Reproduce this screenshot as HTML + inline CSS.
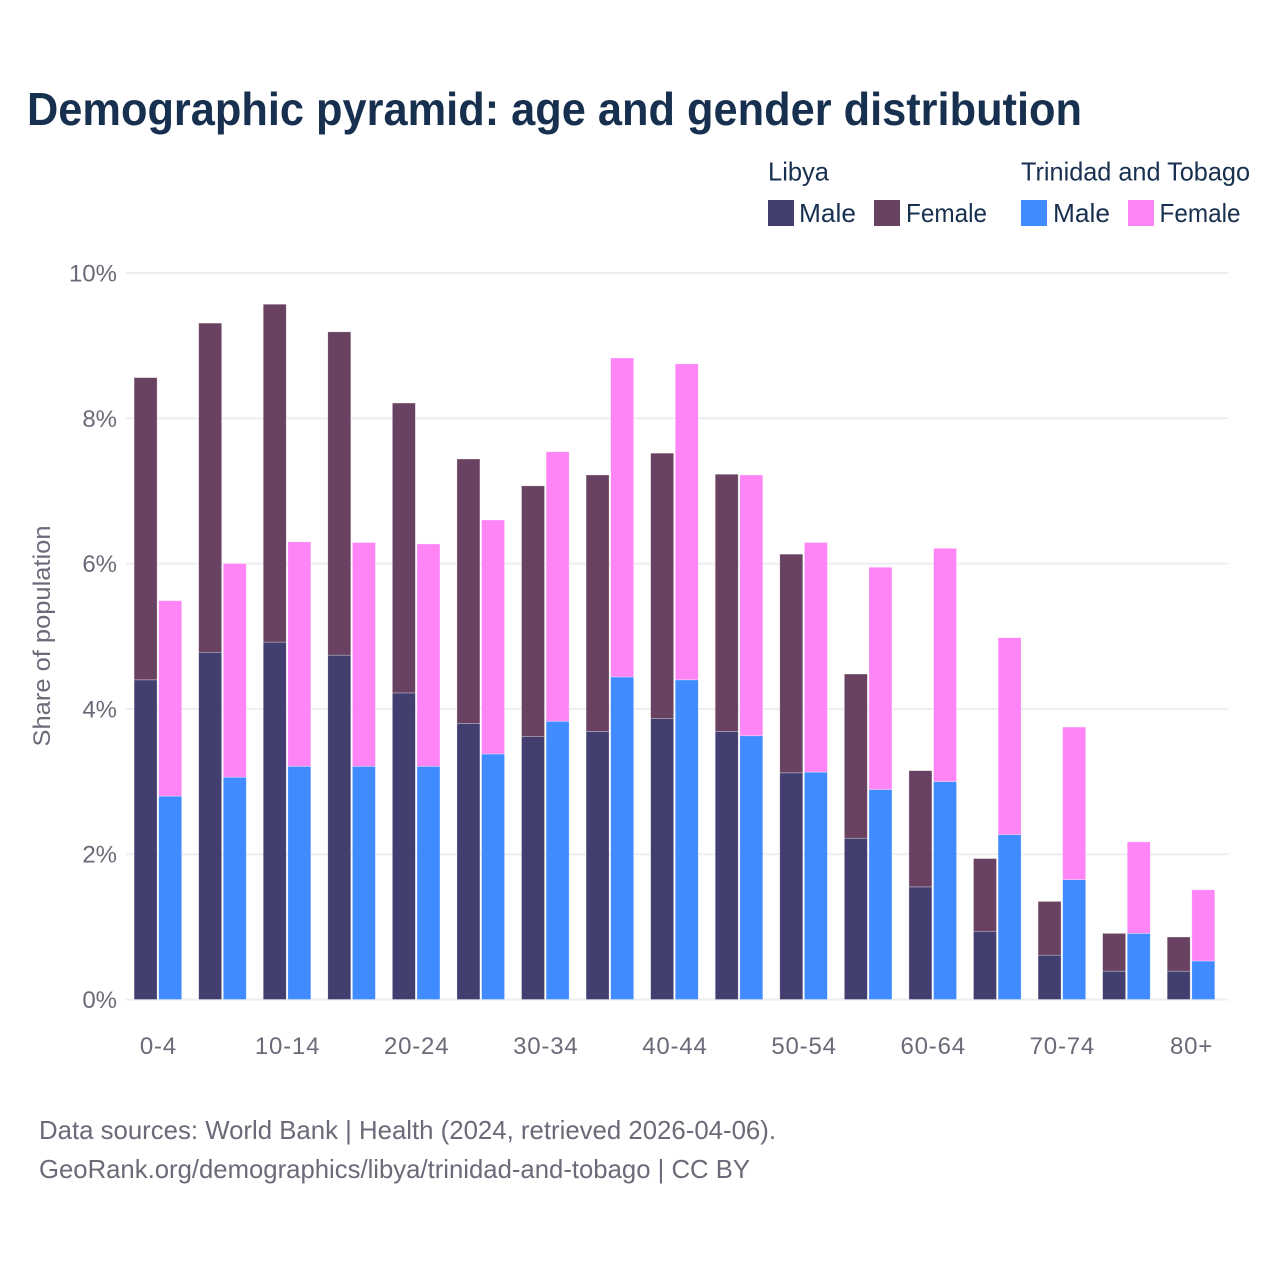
<!DOCTYPE html>
<html lang="en">
<head>
<meta charset="utf-8">
<title>Demographic pyramid: age and gender distribution</title>
<style>
html,body{margin:0;padding:0;background:#fff;}
svg{display:block;font-family:"Liberation Sans",sans-serif;}
.tick{font-size:24px;fill:#6a6a78;}
.leg{font-size:26px;fill:#18304f;}
.foot{font-size:26px;fill:#6a6a78;}
</style>
</head>
<body>
<svg id="chart" xmlns="http://www.w3.org/2000/svg" width="1280" height="1280" viewBox="0 0 1280 1280">
  <rect x="0" y="0" width="1280" height="1280" fill="#ffffff"/>
  <text x="27" y="125" font-size="46" font-weight="700" fill="#18304f" textLength="1055" lengthAdjust="spacingAndGlyphs">Demographic pyramid: age and gender distribution</text>

  <g>
    <text class="leg" x="768" y="180.5" textLength="61" lengthAdjust="spacingAndGlyphs">Libya</text>
    <text class="leg" x="1021" y="180.5" textLength="229" lengthAdjust="spacingAndGlyphs">Trinidad and Tobago</text>
    <g>
      <rect x="768" y="200" width="26" height="26" fill="#423f70"/>
      <text class="leg" x="799" y="222" textLength="57" lengthAdjust="spacingAndGlyphs">Male</text>
    </g>
    <g>
      <rect x="874" y="200" width="26" height="26" fill="#684260"/>
      <text class="leg" x="906" y="222" textLength="81" lengthAdjust="spacingAndGlyphs">Female</text>
    </g>
    <g>
      <rect x="1021" y="200" width="26" height="26" fill="#3f8bff"/>
      <text class="leg" x="1053" y="222" textLength="57" lengthAdjust="spacingAndGlyphs">Male</text>
    </g>
    <g>
      <rect x="1128" y="200" width="26" height="26" fill="#ff85f6"/>
      <text class="leg" x="1159.5" y="222" textLength="81" lengthAdjust="spacingAndGlyphs">Female</text>
    </g>
  </g>

  <g id="grid"></g>
  <g id="yticks"></g>
  <g id="bars"></g>
  <g id="xticks"></g>

  <text x="0" y="0" transform="translate(50,636) rotate(-90)" text-anchor="middle" font-size="24" fill="#6a6a78" textLength="221" lengthAdjust="spacingAndGlyphs">Share of population</text>

  <text class="foot" x="39" y="1139" textLength="737" lengthAdjust="spacingAndGlyphs">Data sources: World Bank | Health (2024, retrieved 2026-04-06).</text>
  <text class="foot" x="39" y="1178" textLength="711" lengthAdjust="spacingAndGlyphs">GeoRank.org/demographics/libya/trinidad-and-tobago | CC BY</text>
</svg>
<script>
const categories = ['0-4','5-9','10-14','15-19','20-24','25-29','30-34','35-39','40-44','45-49','50-54','55-59','60-64','65-69','70-74','75-79','80+'];
const libyaMale = [4.40,4.78,4.92,4.74,4.22,3.80,3.62,3.69,3.87,3.69,3.12,2.22,1.55,0.94,0.61,0.39,0.39];
const libyaFemale = [4.16,4.53,4.65,4.45,3.99,3.64,3.45,3.53,3.65,3.54,3.01,2.26,1.60,1.00,0.74,0.52,0.47];
const ttMale = [2.80,3.06,3.21,3.21,3.21,3.38,3.83,4.44,4.40,3.63,3.13,2.89,3.00,2.27,1.65,0.91,0.53];
const ttFemale = [2.69,2.94,3.09,3.08,3.06,3.22,3.71,4.39,4.35,3.59,3.16,3.06,3.21,2.71,2.10,1.26,0.98];
const yTicks = [0,2,4,6,8,10];

const NS = 'http://www.w3.org/2000/svg';
const plotLeft = 125.5, plotRight = 1228, yBase = 999.5, yTop = 273;
function yScale(v){ return yBase - (v / 10) * (yBase - yTop); }
function xCenter(i){ return 157.9 + i * (1191 - 157.9) / (categories.length - 1); }

const grid = document.getElementById('grid');
const yt = document.getElementById('yticks');
yTicks.forEach(function(t){
  const l = document.createElementNS(NS,'line');
  
  
  l.setAttribute('x1', plotLeft);
  l.setAttribute('x2', plotRight);
  l.setAttribute('y1', yScale(t));
  l.setAttribute('y2', yScale(t));
  l.setAttribute('stroke', '#eeeef1');
  l.setAttribute('stroke-width', '2');
  grid.appendChild(l);
  const s = document.createElementNS(NS,'text');
  
  
  s.setAttribute('class', 'tick');
  s.setAttribute('x', 117);
  s.setAttribute('y', yScale(t) + 8.5);
  s.setAttribute('text-anchor', 'end');
  s.textContent = t + '%';
  yt.appendChild(s);
});

const bars = document.getElementById('bars');
function addBar(x, v0, v1, fill){
  const r = document.createElementNS(NS,'rect');
  
  
  r.setAttribute('x', x);
  r.setAttribute('y', yScale(v1));
  r.setAttribute('width', 23);
  r.setAttribute('height', yScale(v0) - yScale(v1));
  r.setAttribute('fill', fill);
  r.setAttribute('stroke', '#ffffff');
  r.setAttribute('stroke-opacity', '0.5');
  r.setAttribute('stroke-width', '0.6');
  bars.appendChild(r);
}
categories.forEach(function(c, i){
  const cx = xCenter(i);
  addBar(cx - 23.8, 0, libyaMale[i], '#423f70');
  addBar(cx - 23.8, libyaMale[i], libyaMale[i] + libyaFemale[i], '#684260');
  addBar(cx + 0.8, 0, ttMale[i], '#3f8bff');
  addBar(cx + 0.8, ttMale[i], ttMale[i] + ttFemale[i], '#ff85f6');
});

const xt = document.getElementById('xticks');
categories.forEach(function(c, i){
  if (i % 2 !== 0) return;
  const s = document.createElementNS(NS,'text');
  
  
  s.setAttribute('class', 'tick');
  s.setAttribute('x', xCenter(i) + 0.5);
  s.setAttribute('y', 1054);
  s.setAttribute('text-anchor', 'middle');
  s.style.letterSpacing = '0.8px';
  s.textContent = c;
  xt.appendChild(s);
});
</script>
</body>
</html>
